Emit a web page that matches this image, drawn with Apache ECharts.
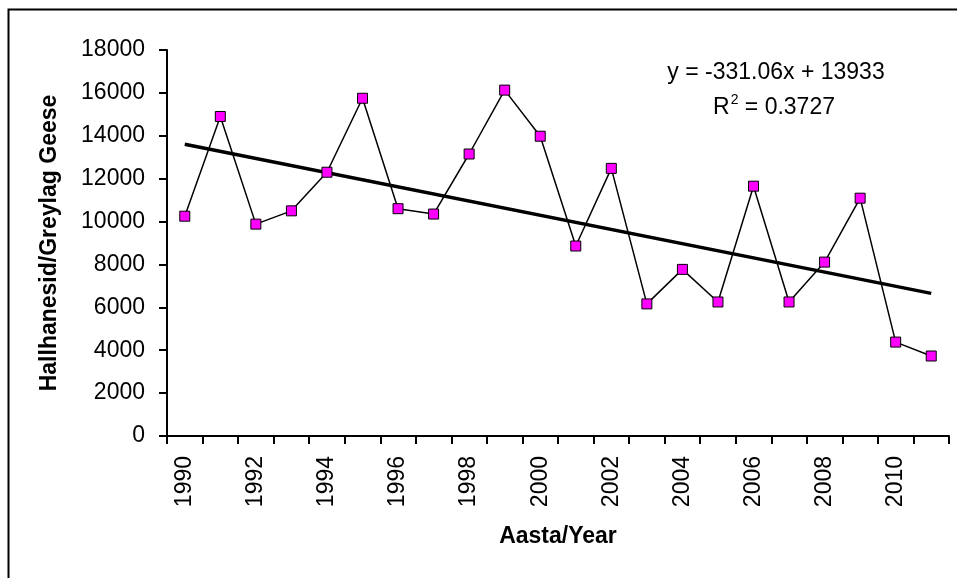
<!DOCTYPE html>
<html>
<head>
<meta charset="utf-8">
<script src="https://cdn.jsdelivr.net/npm/echarts@6/dist/echarts.min.js"></script>
<style>
html,body{margin:0;padding:0;background:#fff;}
#chart{width:957px;height:578px;}
</style>
</head>
<body>
<div id="chart"></div>
<script>
const years = ['1990','1991','1992','1993','1994','1995','1996','1997','1998','1999','2000','2001','2002','2003','2004','2005','2006','2007','2008','2009','2010','2011'];
const geese = [10250, 14900, 9880, 10500, 12300, 15750, 10600, 10350, 13150, 16130, 13980, 8860, 12480, 6160, 7770, 6250, 11650, 6250, 8110, 11090, 4380, 3730];
const trendEnds = [13602, 6650];
const yTicks = {min: 0, max: 18000, interval: 2000};
const equationText = 'y = -331.06x + 13933';
const r2Parts = ['R', '2', ' = 0.3727'];

const trendData = years.map((y, i) => i === 0 ? trendEnds[0] : (i === years.length - 1 ? trendEnds[1] : null));

const chart = echarts.init(document.getElementById('chart'), null, {renderer: 'canvas'});
const font = 'Liberation Sans, Arial, sans-serif';
chart.setOption({
  animation: false,
  backgroundColor: '#fff',
  textStyle: {fontFamily: font},
  grid: {left: 167, top: 50, right: 8, bottom: 142, containLabel: false},
  xAxis: {
    type: 'category',
    data: years,
    boundaryGap: true,
    name: 'Aasta/Year',
    nameLocation: 'middle',
    nameGap: 89,
    nameTextStyle: {fontFamily: font, fontSize: 23, fontWeight: 'bold', color: '#000'},
    axisLine: {lineStyle: {color: '#000', width: 2}},
    axisTick: {show: true, interval: 0, length: 8, alignWithLabel: false, lineStyle: {color: '#000', width: 2}},
    axisLabel: {interval: 1, rotate: 90, margin: 20, fontFamily: font, fontSize: 23, color: '#000'},
    splitLine: {show: false}
  },
  yAxis: {
    type: 'value',
    min: yTicks.min, max: yTicks.max, interval: yTicks.interval,
    name: 'Hallhanesid/Greylag Geese',
    nameLocation: 'middle',
    nameGap: 106,
    nameTextStyle: {fontFamily: font, fontSize: 23, fontWeight: 'bold', color: '#000'},
    axisLine: {show: true, lineStyle: {color: '#000', width: 2}},
    axisTick: {show: true, length: 8, lineStyle: {color: '#000', width: 2}},
    axisLabel: {margin: 22, fontFamily: font, fontSize: 23, color: '#000', formatter: v => String(v)},
    splitLine: {show: false}
  },
  series: [
    {
      type: 'line',
      name: 'trend',
      data: trendData,
      connectNulls: true,
      showSymbol: false,
      symbol: 'none',
      lineStyle: {color: '#000', width: 3.5},
      z: 3
    },
    {
      type: 'line',
      name: 'geese',
      data: geese,
      symbol: 'rect',
      symbolSize: 10,
      itemStyle: {color: '#FF00FF', borderColor: '#000', borderWidth: 1},
      lineStyle: {color: '#000', width: 1.5},
      z: 4
    }
  ],
  graphic: [
    {type: 'rect', left: 6, top: 7, shape: {width: 1000, height: 1000}, style: {fill: 'none', stroke: '#000', lineWidth: 2}, silent: true, z: -1},
    {type: 'text', x: 776, y: 73, style: {text: equationText, font: '23px Liberation Sans, Arial, sans-serif', fill: '#000', align: 'center', verticalAlign: 'middle'}},
    {type: 'text', x: 774, y: 105, style: {
      text: '{a|' + r2Parts[0] + '}{s|' + r2Parts[1] + '}{a|' + r2Parts[2] + '}',
      align: 'center', verticalAlign: 'middle',
      rich: {
        a: {fontFamily: font, fontSize: 23, color: '#000', lineHeight: 28, verticalAlign: 'bottom'},
        s: {fontFamily: font, fontSize: 14, color: '#000', lineHeight: 28, verticalAlign: 'top', padding: [2, 0, 0, 1]}
      }
    }}
  ]
});
</script>
</body>
</html>
